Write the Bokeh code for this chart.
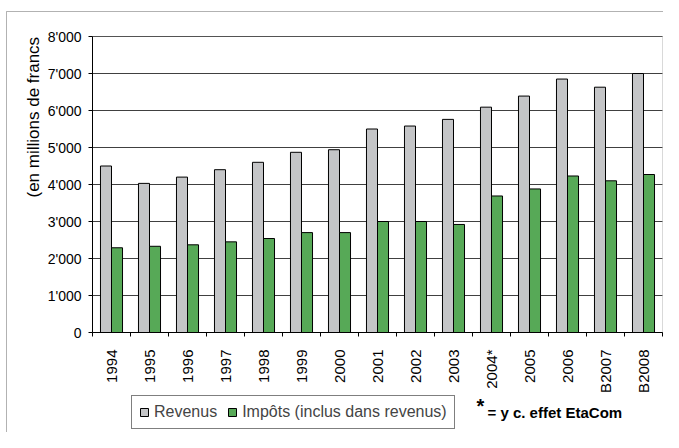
import math
from bokeh.plotting import figure
from bokeh.models import (ColumnDataSource, Range1d, FixedTicker, Legend, LegendItem,
                          Label, BoxAnnotation, LinearAxis, Grid)
from bokeh.transform import dodge
from bokeh.embed import file_html
from bokeh.resources import INLINE

years = ["1994", "1995", "1996", "1997", "1998", "1999", "2000", "2001",
         "2002", "2003", "2004*", "2005", "2006", "B2007", "B2008"]
revenus = [4500, 4030, 4200, 4400, 4600, 4870, 4940, 5500, 5580, 5760,
           6090, 6390, 6850, 6630, 7000]
impots = [2290, 2330, 2370, 2450, 2540, 2700, 2700, 3000, 3000, 2920,
          3690, 3880, 4230, 4100, 4270]
y_ticks = [0, 1000, 2000, 3000, 4000, 5000, 6000, 7000, 8000]
y_label = "(en millions de francs"
legend_labels = ["Revenus", "Impôts (inclus dans revenus)"]
note_star = "*"
note_text = "= y c. effet EtaCom"

FONT = "Liberation Sans"
W, H = 663, 432
N = len(years)
X0, X1 = -0.5, N - 0.5
Y0, Y1 = y_ticks[0], y_ticks[-1]

# pixel layout of the plot area inside the canvas
PL, PR, PT, PB = 92, 662, 36, 332
sx = (PR - PL) / (X1 - X0)
sy = (PB - PT) / (Y1 - Y0)
x_range = Range1d(X0 - PL / sx, X1 + (W - PR) / sx)
y_range = Range1d(Y0 - (H - PB) / sy, Y1 + PT / sy)

src = ColumnDataSource(dict(x=list(range(N)), rev=revenus, imp=impots))

p = figure(width=W, height=H, output_backend="svg", toolbar_location=None,
           x_range=x_range, y_range=y_range,
           x_axis_location=None, y_axis_location=None,
           min_border=0)
p.background_fill_color = "white"
p.border_fill_color = "white"
p.outline_line_color = None
p.xgrid.visible = False
p.ygrid.visible = False

# gridlines limited to the plot area
grid = Grid(dimension=1, ticker=FixedTicker(ticks=y_ticks), grid_line_color="#404040")
grid_ok = True
try:
    grid.cross_bounds = (X0, X1)
except Exception:
    grid_ok = False
if grid_ok:
    p.add_layout(grid)
else:
    p.segment(x0=[X0] * len(y_ticks), x1=[X1] * len(y_ticks), y0=y_ticks, y1=y_ticks,
              line_color="#404040", line_width=1)

# plot-area outline (right side gray)
p.add_layout(BoxAnnotation(left=X0, right=X1, bottom=Y0, top=Y1, fill_alpha=0,
                           line_color="#808080", line_width=1, level="underlay"))

r1 = p.vbar(x=dodge("x", -0.145, range=p.x_range), top="rev", width=0.29,
            source=src, fill_color="#C4C5C7", line_color="black", line_width=1)
r2 = p.vbar(x=dodge("x", 0.145, range=p.x_range), top="imp", width=0.29,
            source=src, fill_color="#57A957", line_color="black", line_width=1)

# x axis
xa = LinearAxis(fixed_location=Y0, bounds=(X0, X1))
xa.ticker = FixedTicker(ticks=list(range(N)),
                        minor_ticks=[i - 0.5 for i in range(N + 1)])
xa.major_label_overrides = {i: y for i, y in enumerate(years)}
xa.major_label_orientation = math.pi / 2
xa.major_tick_out = 0
xa.major_tick_in = 0
xa.minor_tick_out = 4
xa.minor_tick_in = 0
xa.minor_tick_line_color = "black"
xa.axis_line_color = "black"
xa.major_label_text_font = FONT
xa.major_label_text_font_size = "15px"
xa.major_label_text_color = "black"
xa.major_label_standoff = 13
p.add_layout(xa, "below")

# y axis
ya = LinearAxis(fixed_location=X0, bounds=(Y0, Y1))
ya.ticker = FixedTicker(ticks=y_ticks)
ya.major_label_overrides = {v: (f"{v:,}".replace(",", "'")) for v in y_ticks}
ya.major_tick_out = 4
ya.major_tick_in = 0
ya.minor_tick_line_color = None
ya.axis_line_color = "black"
ya.major_tick_line_color = "black"
ya.major_label_text_font = FONT
ya.major_label_text_font_size = "14px"
ya.major_label_text_color = "black"
ya.major_label_standoff = 7
p.add_layout(ya, "left")

# outer chart border
p.add_layout(BoxAnnotation(left=x_range.start + 6 / sx, right=x_range.end + 10,
                           top=y_range.end - 11 / sy, bottom=y_range.start - 5000,
                           fill_alpha=0, line_color="black", line_width=1))

# y label
p.add_layout(Label(x=33, y=235, x_units="screen", y_units="screen", angle=math.pi / 2,
                   text=y_label, text_font=FONT, text_font_size="17px",
                   text_align="left", text_baseline="middle", text_color="black"))

# legend
legend = Legend(items=[LegendItem(label=legend_labels[0], renderers=[r1]),
                       LegendItem(label=legend_labels[1], renderers=[r2])],
                orientation="horizontal", location=(131, 3),
                label_text_font=FONT, label_text_font_size="16px",
                glyph_width=10, glyph_height=10, label_standoff=5, spacing=10,
                padding=7, margin=0, border_line_color="black",
                background_fill_color="white", background_fill_alpha=1)
p.add_layout(legend, "center")

# note
p.add_layout(Label(x=476, y=27, x_units="screen", y_units="screen", text=note_star,
                   text_font=FONT, text_font_size="20px", text_font_style="bold",
                   text_align="left", text_baseline="middle", text_color="black"))
p.add_layout(Label(x=487, y=20, x_units="screen", y_units="screen", text=note_text,
                   text_font=FONT, text_font_size="15px", text_font_style="bold",
                   text_align="left", text_baseline="middle", text_color="black"))

open("out.html", "w").write(file_html(p, INLINE))
